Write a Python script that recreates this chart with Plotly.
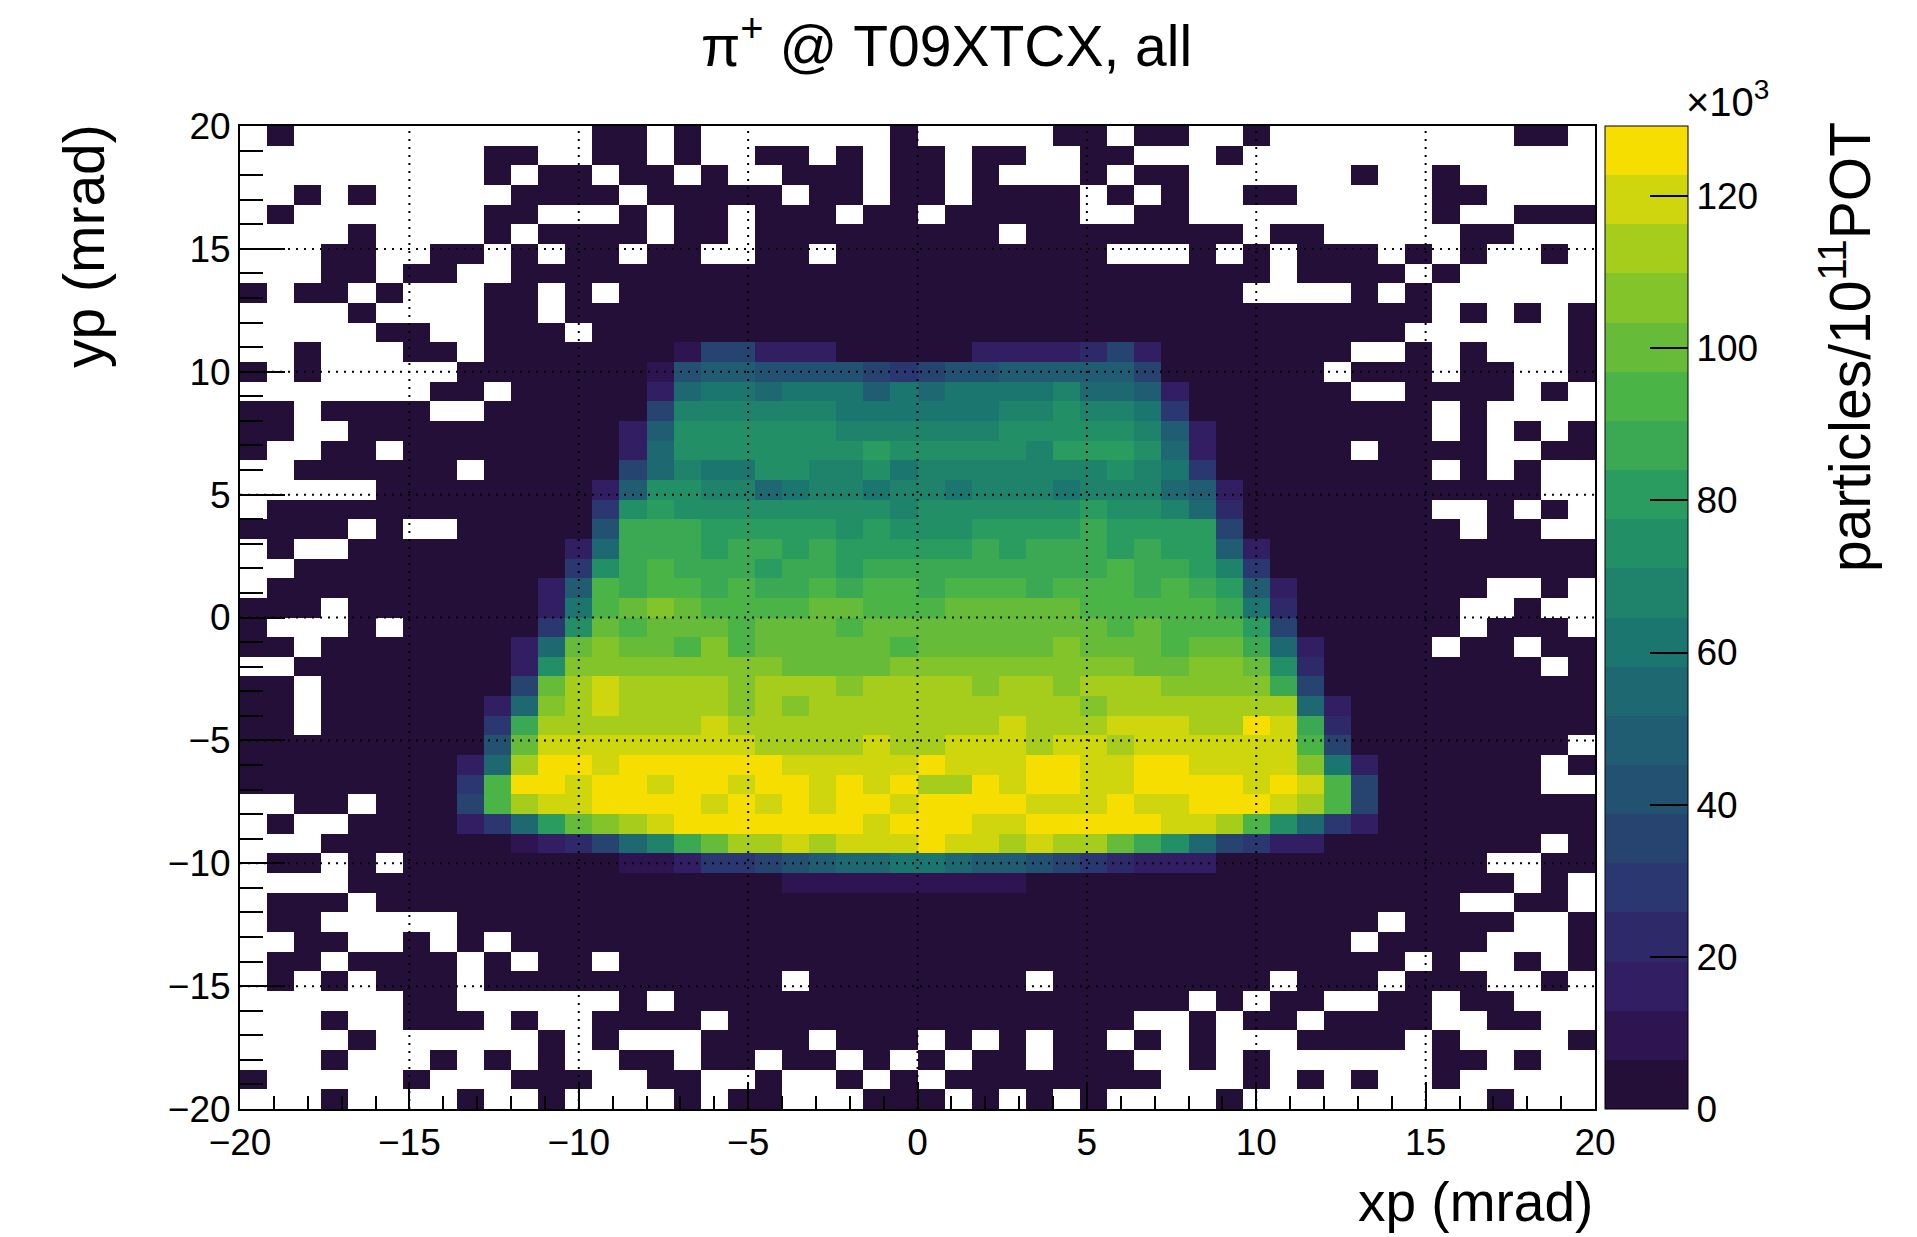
import numpy as np
import plotly.graph_objects as go

# ---------------- texts ----------------
title_text = "π<sup>+</sup> @ T09XTCX, all"
x_title = "xp (mrad)"
y_title = "yp (mrad)"
z_title = "particles/10<sup>11</sup>POT"
z_exp_text = "×10<sup>3</sup>"

# ---------------- axes / binning ----------------
xp_range = [-20.0, 20.0]
yp_range = [-20.0, 20.0]
n_bins_x = 50
n_bins_y = 50
axis_ticks = [-20, -15, -10, -5, 0, 5, 10, 15, 20]
z_ticks = [0, 20, 40, 60, 80, 100, 120]          # in units of 10^3
z_max = 129.2                                   # histogram maximum (x10^3)
n_levels = 20                                   # colour bands (contours)

# ---------------- bin contents, read per bin as colour band ----------------
# '.' = empty bin, '0'..'9','a'..'j' = colour band 0..19 ; first string = top row
level_rows = [
    ".0...........00.0" + ".......0.....00.0" + "0..0.........00.",
    ".........00..00.0" + "..00.0.00.00..00." + "..0.............",
    ".........0.00.00." + "0..000.00.0...0.0" + "0......0..0.....",
    "..0.0.....0000.00" + "000.00.00.0000.0." + "0..00.....00....",
    ".0.......00...0.0" + "0.000.00.00000..0" + "0.........0..000",
    "....0....0.0000.0" + "0.000000000.00000" + "000.00.....00...",
    "...00..00.0.00.00" + "..00.0000000000.." + ".0.0.000.0.0..0.",
    "...00.00..0000000" + "00000000000000000" + "0000.0000.0.....",
    "0.00.0...00.0.000" + "00000000000000000" + "000....0.0......",
    "....0....00.00000" + "00000000000000000" + "0000000000.0.0.0",
    ".....00..000.0000" + "00000000000000000" + "000000000......0",
    "..0...00.00000001" + "55222000002222352" + "0000000..0.0...0",
    "0.0.....000000016" + "77666654566777775" + "000000.000.00..0",
    ".......00.0000028" + "9989997989999a887" + "2000000..0000.0.",
    "00.0000..0000005a" + "aaaaa999999aabaa9" + "4000000000.0....",
    "00..000000000027b" + "bbbbbaaaaaabbbbba" + "7200000000.0.0.0",
    "0..00.0000000028b" + "bbbbbbcbbbbbacccb" + "8200000.0000..00",
    "..000000.0000058a" + "99bbaab9aaaaaaaba" + "9400000000.0.0..",
    ".....0000000027bb" + "aa89aa9aa9aaa9aaa" + "87200000000000..",
    ".0000000000004bcb" + "bbbbbbbabbbbbbcbb" + "a830000000..0.0.",
    "0000.0..000006ddd" + "cccccbcbbbccccdcc" + "cc500000000.00..",
    ".0..0000000028ddd" + "cddcdcccccdcdddcd" + "cc72000000000000",
    "..00000000004bded" + "ddcddcddddddddded" + "dca4000000000000",
    ".000000000027edee" + "deddedeedeeedeeed" + "edc720000000..0.",
    "000.000000029efgf" + "eeeeffeeefffffeee" + "eed93000000..0..",
    "0...0.000004bfeff" + "fefffefffffffffef" + "eeec5000000.000.",
    "00.000000028fgffe" + "gefffffefffffgfff" + "effd820000.00.00",
    "..000000002bggggg" + "gggffffgggggggggf" + "fggfb300000000.0",
    "00.00000005fhihhh" + "hghhhghhhhghhghhh" + "ggggd50000000000",
    "00.00000028ghihhh" + "hghghhhhhhhhhhghh" + "hhhhh82000000000",
    "00.0000004dhhhhhh" + "ihhhhhhhhhhihhhii" + "ihhjid3000000000",
    "0000000006fiiiiii" + "iihhhhihhiiihiihi" + "iiiiie500000000.",
    "0000000028hjjijjj" + "jjjiiiiijiiijjiij" + "jiiiig92000000.0",
    "000000004ejjijjij" + "jijjijijhhjijjiij" + "jjjijie5000000..",
    "..00.0005ehiijjjj" + "ijijijjijjjjiiiji" + "ijjjihe500000000",
    ".0..0000248cfghij" + "jjjjjjijjjiijjjjj" + "iiheb84200000000",
    "...000000012358ad" + "fhhihiiijiihihhfd" + "b8542200000000.0",
    ".00.0.00000000112" + "44567889987765432" + "220000000000..00",
    "....0000000000000" + "00011111111100000" + "0000000000000.0.",
    ".000.000000000000" + "00000000000000000" + "00000000000..00.",
    ".00.....000000000" + "00000000000000000" + "00000000.0000..0",
    "..00..0.0.0000000" + "00000000000000000" + "0000000.0000...0",
    ".00.0000.0.00.000" + "00000000000000000" + "000000000.0..0.0",
    ".0.0.000.00000000" + "000.00000000.0000" + "0000.000.000..0.",
    "......00......0.0" + "00000000000000000" + "0.0.00..00.00...",
    "...0..000.0..0000" + ".000000000000000." + ".0.00.0000..00..",
    "....0......0.0..." + "0000.000.0.0.00.0" + ".0...0000.0....0",
    "...0...0.0.0..00." + "00.00.0.0.00.000." + ".0.0......00.0..",
    "0.....0...000..00" + "..0..0.0.00000000" + "...0.0.0..0.....",
    "...0....0..0....0" + ".00...000.0.0.0.." + "..0.........0...",
]
for r in level_rows:
    assert len(r) == n_bins_x, (len(r), r)
assert len(level_rows) == n_bins_y

# ---------------- palette (ROOT kViridis) ----------------
vir_r = [26, 51, 43, 33, 28, 35, 74, 144, 246]
vir_g = [9, 24, 55, 87, 118, 150, 180, 200, 222]
vir_b = [30, 96, 112, 114, 112, 101, 72, 35, 0]
stops = np.linspace(0, 1, len(vir_r))


def band_color(k):
    t = min(1.0, int((k + 0.99) * 255 / n_levels) / 254.0)
    r = np.interp(t, stops, vir_r)
    g = np.interp(t, stops, vir_g)
    b = np.interp(t, stops, vir_b)
    return "rgb(%d,%d,%d)" % (round(r), round(g), round(b))


colorscale = []
for k in range(n_levels):
    c = band_color(k)
    colorscale.append([k / n_levels, c])
    colorscale.append([(k + 1) / n_levels, c])

# ---------------- build z ----------------
codes = "0123456789abcdefghij"
band_w = z_max / n_levels
z = []
for row in level_rows[::-1]:                     # bottom row first
    z.append([None if ch == "." else (codes.index(ch) + 0.5) * band_w for ch in row])

bw_x = (xp_range[1] - xp_range[0]) / n_bins_x
bw_y = (yp_range[1] - yp_range[0]) / n_bins_y
x_centers = xp_range[0] + bw_x * (np.arange(n_bins_x) + 0.5)
y_centers = yp_range[0] + bw_y * (np.arange(n_bins_y) + 0.5)

# ---------------- figure ----------------
W, H = 1917, 1237
ML, MR, MT, MB = 240, 322, 126, 128
PW, PH = W - ML - MR, H - MT - MB
FONT = "Liberation Sans, Arial, Helvetica, sans-serif"


def px_x(px):
    return (px - ML) / PW


def px_y(py):
    return (H - MB - py) / PH


fig = go.Figure()
fig.add_trace(go.Heatmap(
    x=x_centers, y=y_centers, z=z,
    zmin=0, zmax=z_max, colorscale=colorscale,
    hoverongaps=False, xgap=0, ygap=0,
    colorbar=dict(
        x=px_x(1605), xanchor="left", xpad=0,
        y=0.5, yanchor="middle", len=1.0, lenmode="fraction", ypad=0,
        thickness=83, outlinewidth=1, outlinecolor="black",
        tickvals=z_ticks, ticktext=[str(v) for v in z_ticks],
        ticks="inside", ticklen=38, tickwidth=1.5, tickcolor="black",
        tickfont=dict(family=FONT, size=37, color="black"),
    ),
))

axis_common = dict(
    range=xp_range, tickvals=axis_ticks,
    ticktext=[str(v) if v >= 0 else "\u2212" + str(-v) for v in axis_ticks],
    ticks="inside", tickwidth=1.5, tickcolor="black",
    showline=True, linecolor="black", linewidth=2, mirror=True,
    showgrid=False, zeroline=False, layer="above traces",
    tickfont=dict(family=FONT, size=37, color="black"),
)
fig.update_xaxes(**axis_common, ticklen=27,
                 minor=dict(dtick=1, ticks="inside", ticklen=13, tickwidth=1.5,
                            tickcolor="black", showgrid=False))
fig.update_yaxes(**axis_common, ticklen=45,
                 minor=dict(dtick=1, ticks="inside", ticklen=23, tickwidth=1.5,
                            tickcolor="black", showgrid=False))

# dotted grid drawn on top of the histogram (ROOT style)
for v in axis_ticks[1:-1]:
    fig.add_shape(type="line", xref="x", yref="y", x0=v, x1=v, y0=yp_range[0], y1=yp_range[1],
                  line=dict(color="black", width=2, dash="2px,6px"), layer="above")
    fig.add_shape(type="line", xref="x", yref="y", y0=v, y1=v, x0=xp_range[0], x1=xp_range[1],
                  line=dict(color="black", width=2, dash="2px,6px"), layer="above")

annotations = [
    dict(text=title_text, x=px_x(946), y=px_y(42), xref="paper", yref="paper",
         xanchor="center", yanchor="middle", showarrow=False,
         font=dict(family=FONT, size=57, color="black")),
    dict(text=x_title, x=1.0, y=px_y(1202), xref="paper", yref="paper",
         xanchor="right", yanchor="middle", showarrow=False,
         font=dict(family=FONT, size=55, color="black")),
    dict(text=y_title, x=px_x(84), y=1.004, xref="paper", yref="paper",
         xanchor="center", yanchor="top", textangle=-90, showarrow=False,
         font=dict(family=FONT, size=57, color="black")),
    dict(text=z_title, x=px_x(1846), y=1.006, xref="paper", yref="paper",
         xanchor="center", yanchor="top", textangle=-90, showarrow=False,
         font=dict(family=FONT, size=57, color="black")),
    dict(text=z_exp_text, x=px_x(1684), y=px_y(126), xref="paper", yref="paper",
         xanchor="left", yanchor="bottom", showarrow=False,
         font=dict(family=FONT, size=40, color="black")),
]

fig.update_layout(
    width=W, height=H,
    margin=dict(l=ML, r=MR, t=MT, b=MB, pad=0),
    paper_bgcolor="white", plot_bgcolor="white",
    font=dict(family=FONT, color="black"),
    annotations=annotations,
    showlegend=False,
)

fig.write_html("out.html")
